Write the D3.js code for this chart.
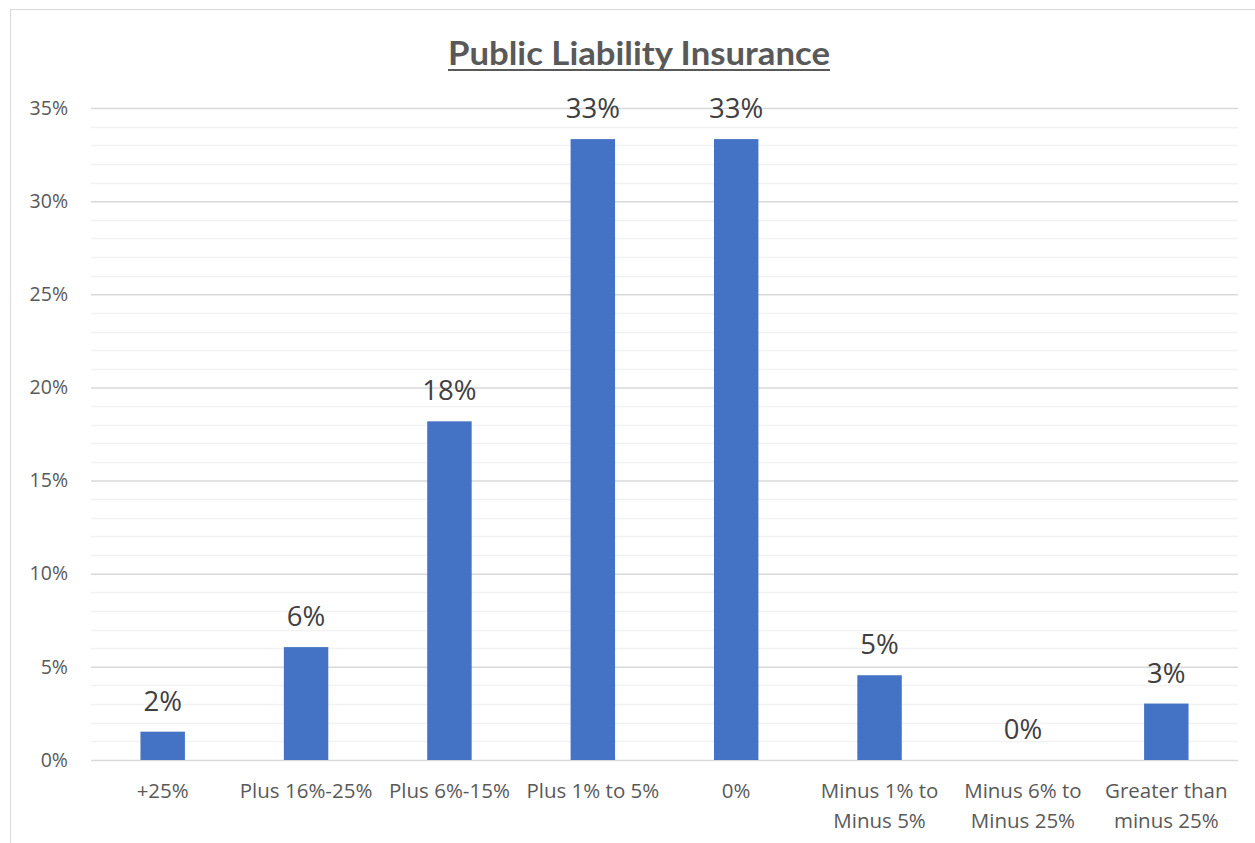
<!DOCTYPE html>
<html>
<head>
<meta charset="utf-8">
<script src="https://cdn.jsdelivr.net/npm/d3@7"></script>
<style>
  html, body { margin: 0; padding: 0; background: #fff; }
  svg { display: block; }
</style>
</head>
<body>
<svg id="chart" width="1255" height="843"></svg>
<script>
// Survey responses: expected change in public liability insurance premiums
const categories = [
  "+25%", "Plus 16%-25%", "Plus 6%-15%", "Plus 1% to 5%", "0%",
  "Minus 1% to Minus 5%", "Minus 6% to Minus 25%", "Greater than minus 25%"
];
// axis labels split over lines
const categoryLines = [
  ["+25%"], ["Plus 16%-25%"], ["Plus 6%-15%"], ["Plus 1% to 5%"], ["0%"],
  ["Minus 1% to", "Minus 5%"], ["Minus 6% to", "Minus 25%"], ["Greater than", "minus 25%"]
];
// share of respondents (fraction)
const shares = [0.0152, 0.0606, 0.1818, 0.3333, 0.3333, 0.0455, 0.0, 0.0303];
const yTicks = [0, 0.05, 0.10, 0.15, 0.20, 0.25, 0.30, 0.35];
const yMinorTicks = d3.range(0, 36).map(d => d / 100);

const svg = d3.select("#chart");
const W = 1255, H = 843;
const plot = { left: 91, right: 1238, top: 108, bottom: 760 };
const font = "'Open Sans', 'Noto Sans', sans-serif";

// chart frame
svg.append("rect")
  .attr("x", 10.5).attr("y", 9.5)
  .attr("width", W + 10).attr("height", H + 10)
  .attr("fill", "#fff").attr("stroke", "#d9d9d9").attr("stroke-width", 1);

const x = d3.scaleBand().domain(categories)
  .range([plot.left, plot.right]).paddingInner(0.69).paddingOuter(0.345);
const y = d3.scaleLinear().domain([0, 0.35]).range([plot.bottom, plot.top]);

// minor gridlines
svg.append("g").selectAll("line").data(yMinorTicks.filter(d => Math.round(d * 100) % 5 !== 0))
  .join("line")
  .attr("x1", plot.left).attr("x2", plot.right)
  .attr("y1", d => Math.round(y(d)) + 0.5).attr("y2", d => Math.round(y(d)) + 0.5)
  .attr("stroke", "#f2f2f2").attr("stroke-width", 1.3);

// major gridlines and y axis labels
const yAxis = d3.axisLeft(y).tickValues(yTicks)
  .tickFormat(d3.format(".0%")).tickSize(-(plot.right - plot.left)).tickPadding(23);
const gy = svg.append("g").attr("transform", `translate(${plot.left},0)`).call(yAxis);
gy.select(".domain").remove();
gy.selectAll(".tick line").attr("stroke", "#d9d9d9").attr("stroke-width", 1.5);
gy.selectAll(".tick text")
  .attr("fill", "#595959").attr("font-family", font).attr("font-size", 19.5);

// bars
svg.append("g").selectAll("rect").data(categories)
  .join("rect")
  .attr("x", d => x(d))
  .attr("width", x.bandwidth())
  .attr("y", (d, i) => y(shares[i]))
  .attr("height", (d, i) => y(0) - y(shares[i]))
  .attr("fill", "#4472c4");

// data labels
svg.append("g").selectAll("text").data(categories)
  .join("text")
  .attr("x", d => x(d) + x.bandwidth() / 2)
  .attr("y", (d, i) => y(shares[i]) - 21)
  .attr("text-anchor", "middle")
  .attr("font-family", font).attr("font-size", 27.5)
  .attr("fill", "#404040")
  .text((d, i) => d3.format(".0%")(shares[i]));

// x axis labels
const xl = svg.append("g").selectAll("text").data(categories)
  .join("text")
  .attr("x", d => x(d) + x.bandwidth() / 2)
  .attr("y", 798)
  .attr("text-anchor", "middle")
  .attr("font-family", font).attr("font-size", 20.5)
  .attr("fill", "#595959");
xl.each(function (d, i) {
  const t = d3.select(this);
  categoryLines[i].forEach((line, j) => {
    t.append("tspan")
      .attr("x", x(d) + x.bandwidth() / 2)
      .attr("dy", j === 0 ? 0 : 30)
      .text(line);
  });
});

// title
svg.append("text")
  .attr("x", 639).attr("y", 65)
  .attr("text-anchor", "middle")
  .attr("font-family", "'Lato', 'Open Sans', sans-serif")
  .attr("font-weight", "bold").attr("font-size", 32)
  .attr("fill", "#595959")
  .attr("textLength", 382).attr("lengthAdjust", "spacingAndGlyphs")
  .text("Public Liability Insurance");
svg.append("line")
  .attr("x1", 448).attr("x2", 830).attr("y1", 70).attr("y2", 70)
  .attr("stroke", "#595959").attr("stroke-width", 2);
</script>
</body>
</html>
